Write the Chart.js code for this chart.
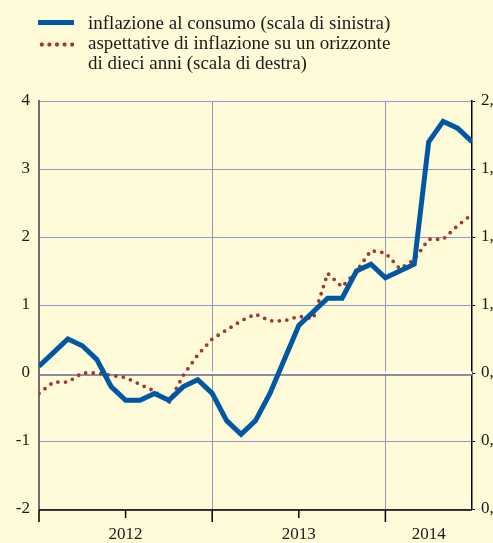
<!DOCTYPE html>
<html>
<head>
<meta charset="utf-8">
<script src="https://cdn.jsdelivr.net/npm/chart.js@4/dist/chart.umd.min.js"></script>
<style>
html, body { margin: 0; padding: 0; overflow: hidden; background: #fffad8; }
#wrap { position: relative; width: 520px; height: 543px; }
#legend { position: absolute; left: 0; top: 0; width: 493px; font-family: "Liberation Serif", "Times New Roman", serif; font-size: 19px; line-height: 20px; color: #1a1a1a; }
.swatch { position: absolute; left: 38px; width: 36px; }
.sw-blue { top: 20px; height: 5px; background: #0057a3; }
.sw-dots { top: 42px; height: 5px; background: radial-gradient(circle, #a8362f 0 1.8px, rgba(0,0,0,0) 2.4px) 0 0 / 7.6px 5px repeat-x; }
.txt { position: absolute; left: 88px; top: 13px; white-space: nowrap; }
canvas { position: absolute; left: 0; top: 0; }
</style>
</head>
<body>
<div id="wrap">
  <canvas id="chart" width="520" height="543"></canvas>
  <div id="legend">
    <div class="swatch sw-blue"></div>
    <div class="swatch sw-dots"></div>
    <div class="txt">inflazione al consumo (scala di sinistra)<br>aspettative di inflazione su un orizzonte<br>di dieci anni (scala di destra)</div>
  </div>
</div>
<script>
// mesi da gennaio 2012 a luglio 2014
const months = ['2012-01', '2012-02', '2012-03', '2012-04', '2012-05', '2012-06', '2012-07', '2012-08', '2012-09', '2012-10', '2012-11', '2012-12',
                '2013-01', '2013-02', '2013-03', '2013-04', '2013-05', '2013-06', '2013-07', '2013-08', '2013-09', '2013-10', '2013-11', '2013-12',
                '2014-01', '2014-02', '2014-03', '2014-04', '2014-05', '2014-06', '2014-07'];

// inflazione al consumo (scala di sinistra)
const consumo = [0.1, 0.3, 0.5, 0.4, 0.2, -0.2, -0.4, -0.4, -0.3, -0.4, -0.2, -0.1,
                 -0.3, -0.7, -0.9, -0.7, -0.3, 0.2, 0.7, 0.9, 1.1, 1.1, 1.5, 1.6,
                 1.4, 1.5, 1.6, 3.4, 3.7, 3.6, 3.4];

// aspettative a dieci anni (scala di destra)
const aspettative = [0.81, 0.86, 0.86, 0.90, 0.90, 0.89, 0.88, 0.85, 0.82, 0.77, 0.89, 0.98,
                     1.05, 1.09, 1.13, 1.16, 1.13, 1.13, 1.15, 1.14, 1.34, 1.28, 1.35, 1.44,
                     1.43, 1.36, 1.40, 1.49, 1.49, 1.55, 1.60];

const leftTicks = [-2, -1, 0, 1, 2, 3, 4];
const rightTicks = [0.3, 0.6, 0.9, 1.2, 1.5, 1.8, 2.1];
const years = ['2012', '2013', '2014'];
const yearPos = [6, 18, 27];        // centro di ogni anno (indice mese)
const yearBounds = [0, 12, 24];     // inizio di ogni anno
const halfYears = [6, 18];

const blue = '#0057a3';
const red = '#a8362f';
const gridBlue = '#8c9bcf';
const gridGray = '#9199b6';
const font = { family: '"Liberation Serif", "Times New Roman", serif', size: 17 };

const decor = {
    id: 'decor',
    beforeDatasetsDraw(chart) {
        const { ctx, chartArea, scales } = chart;
        const y0 = scales.y.getPixelForValue(0);
        ctx.save();
        ctx.strokeStyle = '#ffffff';
        ctx.lineWidth = 3;
        ctx.beginPath();
        ctx.moveTo(chartArea.left + 1, y0);
        ctx.lineTo(chartArea.right, y0);
        ctx.stroke();
        ctx.strokeStyle = '#6e6e6e';
        ctx.lineWidth = 1.3;
        ctx.beginPath();
        ctx.moveTo(chartArea.left, y0 + 2);
        ctx.lineTo(chartArea.right, y0 + 2);
        ctx.stroke();
        ctx.restore();
    },
    afterDraw(chart) {
        const { ctx, chartArea, scales } = chart;
        const yb = chartArea.bottom + 1;
        ctx.save();
        ctx.strokeStyle = '#000';
        ctx.lineWidth = 1.5;
        ctx.beginPath();
        ctx.moveTo(chartArea.left, yb);
        ctx.lineTo(chartArea.right, yb);
        yearBounds.forEach(v => {
            const x = scales.x.getPixelForValue(v);
            ctx.moveTo(x, yb);
            ctx.lineTo(x, yb + 12);
        });
        halfYears.forEach(v => {
            const x = scales.x.getPixelForValue(v);
            ctx.moveTo(x, yb);
            ctx.lineTo(x, yb + 8);
        });
        ctx.stroke();
        ctx.restore();
    }
};

new Chart(document.getElementById('chart'), {
    type: 'line',
    data: {
        datasets: [{
            label: 'inflazione al consumo (scala di sinistra)',
            data: consumo.map((v, i) => ({ x: i, y: v })),
            borderColor: blue,
            borderWidth: 5,
            pointRadius: 0,
            yAxisID: 'y'
        }, {
            label: 'aspettative di inflazione su un orizzonte di dieci anni (scala di destra)',
            data: aspettative.map((v, i) => ({ x: i, y: v })),
            borderColor: red,
            borderWidth: 3.8,
            borderDash: [0, 7.6],
            borderCapStyle: 'round',
            pointRadius: 0,
            yAxisID: 'y2'
        }]
    },
    options: {
        responsive: false,
        animation: false,
        devicePixelRatio: 1,
        layout: { padding: { top: 101 } },
        plugins: {
            legend: { display: false },
            tooltip: { enabled: false }
        },
        scales: {
            x: {
                type: 'linear',
                min: 0,
                max: months.length - 1,
                afterBuildTicks: s => { s.ticks = [0, 6, 12, 18, 24, 27, 30].map(v => ({ value: v })); },
                ticks: {
                    font: font,
                    color: '#1a1a1a',
                    padding: 15,
                    maxRotation: 0,
                    autoSkip: false,
                    callback: v => { const k = yearPos.indexOf(v); return k >= 0 ? years[k] : ''; }
                },
                grid: {
                    color: c => (c.tick && yearBounds.slice(1).includes(c.tick.value)) ? gridGray : 'rgba(0,0,0,0)',
                    drawTicks: false
                },
                border: { display: false },
                afterFit: s => { s.height = 34; }
            },
            y: {
                position: 'left',
                min: -2,
                max: 4,
                afterBuildTicks: s => { s.ticks = leftTicks.map(v => ({ value: v })); },
                ticks: { font: font, color: '#1a1a1a', padding: 9 },
                grid: {
                    color: c => (c.tick && c.tick.value === 0) ? 'rgba(0,0,0,0)' : gridBlue,
                    drawTicks: false
                },
                border: { color: '#6f6f6f', width: 2 },
                afterFit: s => { s.width = 39; }
            },
            y2: {
                position: 'right',
                min: 0.3,
                max: 2.1,
                afterBuildTicks: s => { s.ticks = rightTicks.map(v => ({ value: v })); },
                ticks: {
                    font: font,
                    color: '#1a1a1a',
                    padding: 6,
                    callback: v => v.toFixed(1).replace('.', ',')
                },
                grid: { drawOnChartArea: false, tickLength: 3, color: '#000' },
                border: { color: '#000', width: 1.5 },
                afterFit: s => { s.width = 48; }
            }
        }
    },
    plugins: [decor]
});
</script>
</body>
</html>
